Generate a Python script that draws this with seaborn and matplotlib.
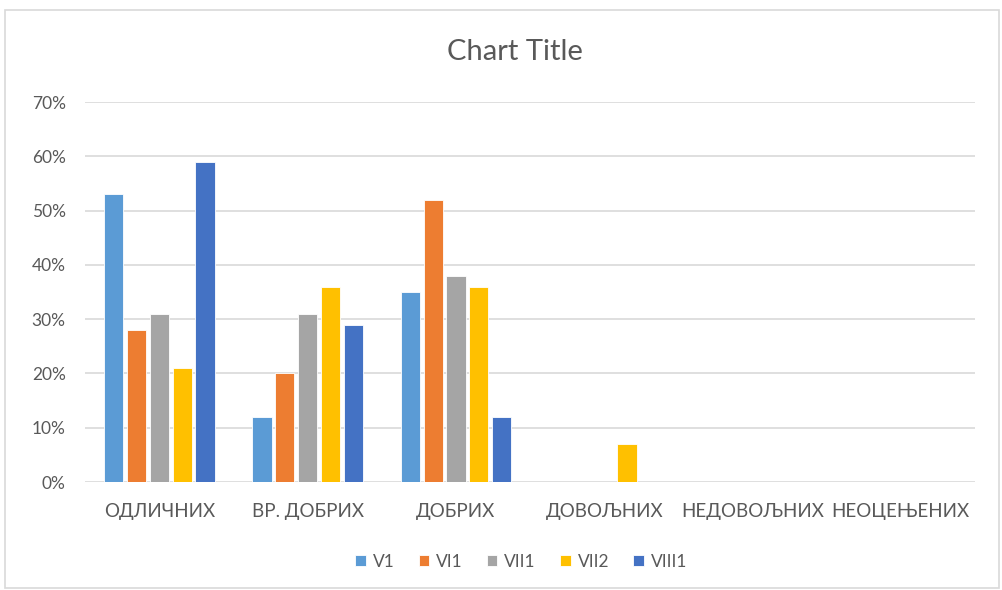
import pandas as pd
import matplotlib.pyplot as plt
import seaborn as sns
from matplotlib.ticker import PercentFormatter
from matplotlib.patches import Rectangle

categories = ['ОДЛИЧНИХ', 'ВР. ДОБРИХ', 'ДОБРИХ', 'ДОВОЉНИХ', 'НЕДОВОЉНИХ', 'НЕОЦЕЊЕНИХ']
series = ['V1', 'VI1', 'VII1', 'VII2', 'VIII1']
v1 = [0.53, 0.12, 0.35, 0.0, 0.0, 0.0]
vi1 = [0.28, 0.20, 0.52, 0.0, 0.0, 0.0]
vii1 = [0.31, 0.31, 0.38, 0.0, 0.0, 0.0]
vii2 = [0.21, 0.36, 0.36, 0.07, 0.0, 0.0]
viii1 = [0.59, 0.29, 0.12, 0.0, 0.0, 0.0]
colors = ['#5B9BD5', '#ED7D31', '#A5A5A5', '#FFC000', '#4472C4']

rows = []
for name, vals in zip(series, [v1, vi1, vii1, vii2, viii1]):
    for cat, v in zip(categories, vals):
        rows.append({'cat': cat, 'series': name, 'value': v})
df = pd.DataFrame(rows)

sns.set_style('white')
plt.rcParams['font.family'] = ['Lato', 'DejaVu Sans']
text_col = '#595959'

fig = plt.figure(figsize=(10.03, 5.9), dpi=100)
ax = fig.add_axes([0.085, 0.183, 0.887, 0.644])

sns.barplot(data=df, x='cat', y='value', hue='series', palette=colors,
            saturation=1, width=0.77, gap=0.16, ax=ax, edgecolor='white',
            linewidth=0.6, errorbar=None)

ax.set_ylim(0, 0.7)
ax.set_yticks([i / 10 for i in range(8)])
ax.yaxis.set_major_formatter(PercentFormatter(1.0, decimals=0))
ax.grid(axis='y', color='#D9D9D9', linewidth=1.2)
ax.set_axisbelow(True)
for s in ax.spines.values():
    s.set_visible(False)
ax.set_xlabel('')
ax.set_ylabel('')
ax.tick_params(axis='y', length=0, pad=14, labelsize=12.5, labelcolor=text_col)
ax.tick_params(axis='x', length=0, pad=15, labelsize=13.5, labelcolor=text_col)

fig.text(0.513, 0.912, 'Chart Title', ha='center', va='center', fontsize=21, color=text_col)

ax.legend(loc='center', bbox_to_anchor=(0.49, -0.21), ncol=5, frameon=False,
          fontsize=12.5, labelcolor=text_col, handlelength=0.6, handleheight=0.6,
          handletextpad=0.4, columnspacing=1.4)

fig.patches.append(Rectangle((5 / 1003, 2 / 590), 994 / 1003, 578 / 590,
                             transform=fig.transFigure, fill=False,
                             edgecolor='#D9D9D9', linewidth=1.2))

fig.savefig('out.png', dpi=100)
